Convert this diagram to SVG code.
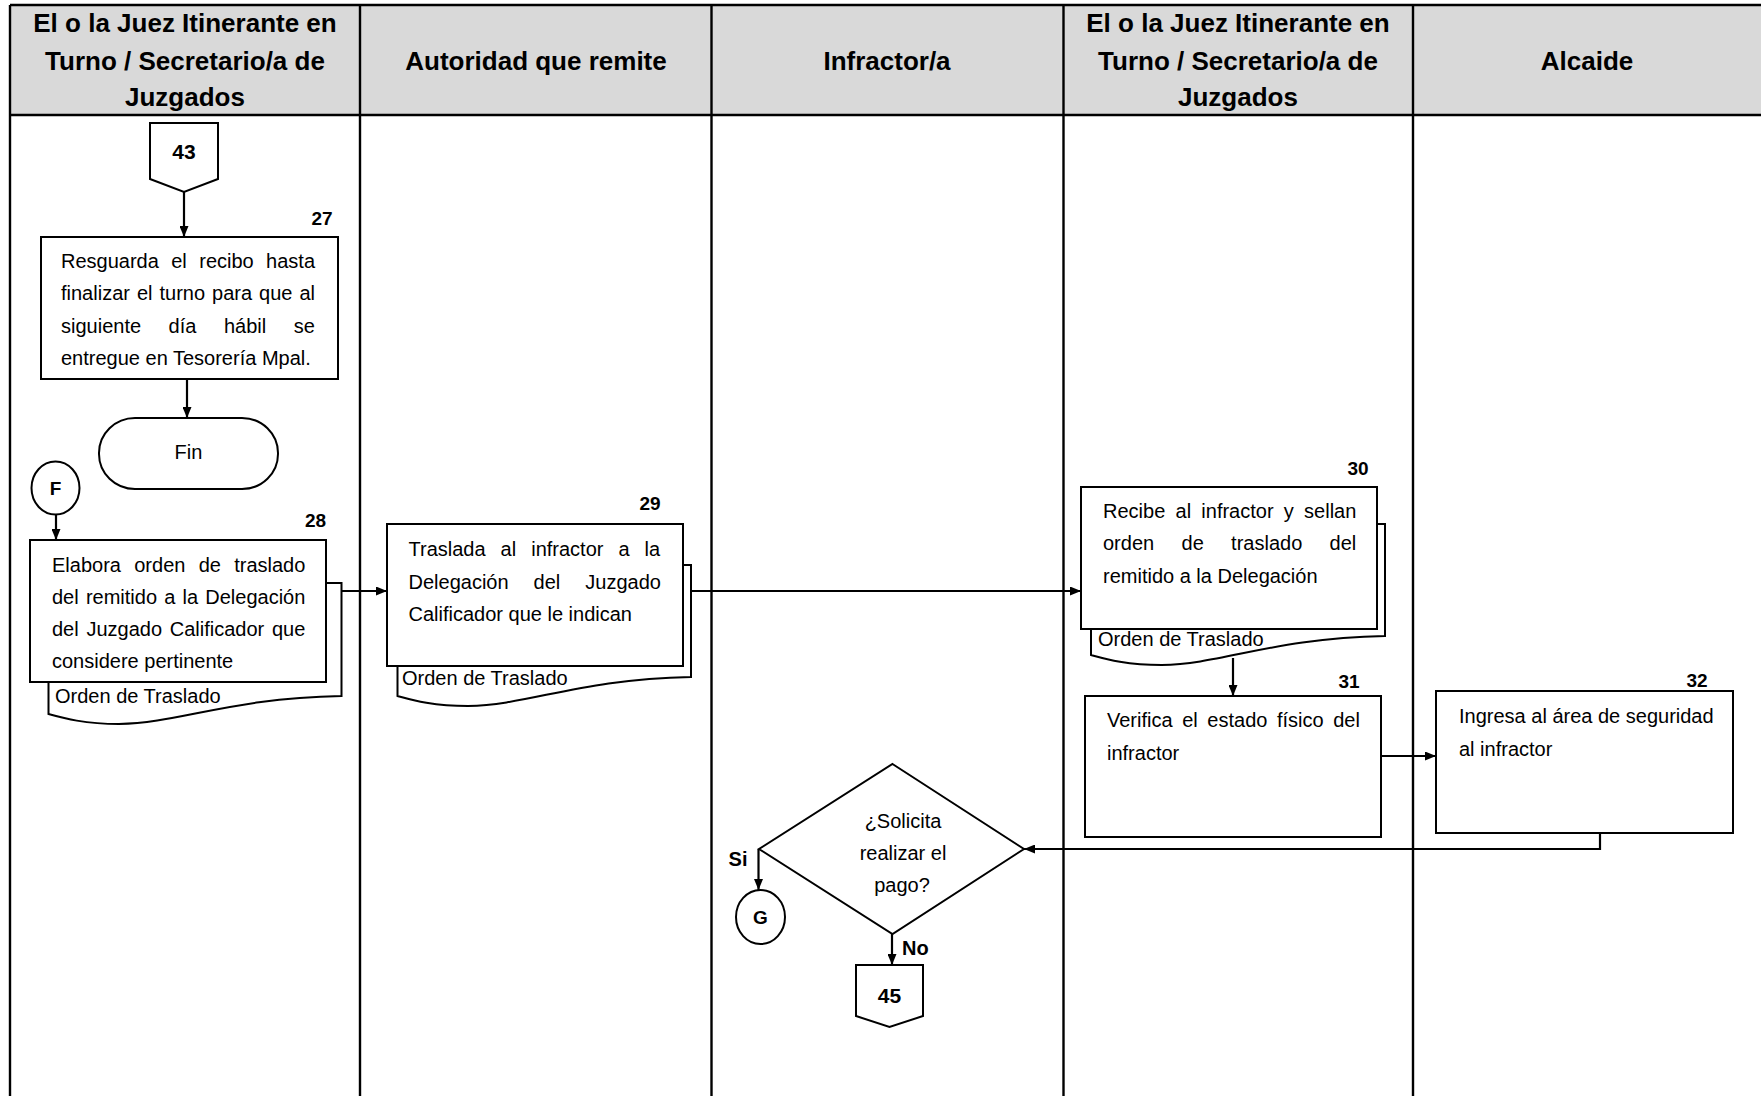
<svg xmlns="http://www.w3.org/2000/svg" width="1761" height="1096" viewBox="0 0 1761 1096">
<defs>
<style>
.lane{stroke:#000;stroke-width:2.4;fill:none}
.box{fill:#fff;stroke:#000;stroke-width:2}
.conn{fill:none;stroke:#000;stroke-width:2.2}
text{font-family:"Liberation Sans",Arial,sans-serif;fill:#000}
.t{font-size:20px}
.hdr{font-size:26px;font-weight:bold;text-anchor:middle}
.num{font-size:19px;font-weight:bold;text-anchor:middle}
.big{font-size:21px;font-weight:bold;text-anchor:middle}
.mid{text-anchor:middle}
</style>
<marker id="ah" viewBox="0 0 11 9" refX="11" refY="4.5" markerWidth="11" markerHeight="9" markerUnits="userSpaceOnUse" orient="auto"><path d="M0,0 L11,4.5 L0,9 z" fill="#000"/></marker>
</defs>
<rect width="1761" height="1096" fill="#fff"/>
<g id="lanes">
<rect x="10" y="5" width="1751" height="110" fill="#d9d9d9"/>
<line class="lane" x1="10" y1="5" x2="1761" y2="5"/>
<line class="lane" x1="10" y1="115" x2="1761" y2="115" style="stroke-width:2.6"/>
<line class="lane" x1="10" y1="5" x2="10" y2="1096"/>
<line class="lane" x1="360" y1="5" x2="360" y2="1096"/>
<line class="lane" x1="711.5" y1="5" x2="711.5" y2="1096"/>
<line class="lane" x1="1063.5" y1="5" x2="1063.5" y2="1096"/>
<line class="lane" x1="1413" y1="5" x2="1413" y2="1096"/>
<text class="hdr" x="185" y="32">El o la Juez Itinerante en</text>
<text class="hdr" x="185" y="70">Turno / Secretario/a de</text>
<text class="hdr" x="185" y="106">Juzgados</text>
<text class="hdr" x="536" y="70">Autoridad que remite</text>
<text class="hdr" x="887" y="70">Infractor/a</text>
<text class="hdr" x="1238" y="32">El o la Juez Itinerante en</text>
<text class="hdr" x="1238" y="70">Turno / Secretario/a de</text>
<text class="hdr" x="1238" y="106">Juzgados</text>
<text class="hdr" x="1587" y="70">Alcaide</text>
</g>
<g id="connectors">
<path class="conn" d="M184,192 V237" marker-end="url(#ah)"/>
<path class="conn" d="M187,379 V418" marker-end="url(#ah)"/>
<path class="conn" d="M56,515 V540" marker-end="url(#ah)"/>
<path class="conn" d="M326,591 H387" marker-end="url(#ah)"/>
<path class="conn" d="M683,591 H1081" marker-end="url(#ah)"/>
<path class="conn" d="M1233,658 V696" marker-end="url(#ah)"/>
<path class="conn" d="M1381,756 H1436" marker-end="url(#ah)"/>
<path class="conn" d="M1600,833 V849 H1024" marker-end="url(#ah)"/>
<path class="conn" d="M758.5,849 V890" marker-end="url(#ah)"/>
<path class="conn" d="M892,934 V965" marker-end="url(#ah)"/>
<text class="num" x="738" y="866" style="font-size:20px">Si</text>
<text class="num" x="902" y="955" style="text-anchor:start;font-size:20px">No</text>
</g>
<g id="n43">
<path class="box" d="M150,123 H218 V179 L184,192 L150,179 Z"/>
<text class="big" x="184" y="159">43</text>
</g>
<g id="n27">
<text class="num" x="322" y="225">27</text>
<rect class="box" x="41" y="237" width="297" height="142"/>
<text class="t" x="61" y="268" style="word-spacing:6.85px">Resguarda el recibo hasta</text>
<text class="t" x="61" y="300" style="word-spacing:1.44px">finalizar el turno para que al</text>
<text class="t" x="61" y="333" style="word-spacing:22px">siguiente día hábil se</text>
<text class="t" x="61" y="365">entregue en Tesorería Mpal.</text>
</g>
<g id="fin">
<rect class="box" x="99" y="418" width="179" height="71" rx="36" ry="35"/>
<text class="t mid" x="188.5" y="459">Fin</text>
</g>
<g id="F">
<ellipse class="box" cx="55.5" cy="488" rx="24" ry="26.5"/>
<text class="mid" x="55.5" y="495" style="font-size:19px;font-weight:bold">F</text>
</g>
<g id="n28">
<text class="num" x="315.5" y="527">28</text>
<path class="box" d="M48.5,583 H341.5 V696 C230,698 180,723 119,724 C84,724 63,718 48.5,714 Z"/>
<rect class="box" x="30" y="540" width="296" height="142"/>
<text class="t" x="52" y="571.5" style="word-spacing:7.73px">Elabora orden de traslado</text>
<text class="t" x="52" y="603.5" style="word-spacing:1.64px">del remitido a la Delegación</text>
<text class="t" x="52" y="635.5" style="word-spacing:2.17px">del Juzgado Calificador que</text>
<text class="t" x="52" y="668">considere pertinente</text>
<text class="t" x="55" y="703">Orden de Traslado</text>
</g>
<g id="n29">
<text class="num" x="650" y="510">29</text>
<path class="box" d="M397.5,565 H691 V677 C579.5,679 529.5,705 468,706 C432.7,706 412.2,700 397.5,696 Z"/>
<rect class="box" x="387" y="524" width="296" height="142"/>
<text class="t" x="408.5" y="556" style="word-spacing:9.47px">Traslada al infractor a la</text>
<text class="t" x="408.5" y="588.5" style="word-spacing:19.48px">Delegación del Juzgado</text>
<text class="t" x="408.5" y="621">Calificador que le indican</text>
<text class="t" x="402" y="685">Orden de Traslado</text>
</g>
<g id="n30">
<text class="num" x="1358" y="475">30</text>
<path class="box" d="M1091,524 H1385 V636 C1273.3,638 1223.3,664 1161.6,665 C1126.3,665 1105.7,659 1091,655 Z"/>
<rect class="box" x="1081" y="487" width="296" height="142"/>
<text class="t" x="1103" y="517.5" style="word-spacing:4.7px">Recibe al infractor y sellan</text>
<text class="t" x="1103" y="550" style="word-spacing:21.8px">orden de traslado del</text>
<text class="t" x="1103" y="583">remitido a la Delegación</text>
<text class="t" x="1098" y="646">Orden de Traslado</text>
</g>
<g id="n31">
<text class="num" x="1349" y="688">31</text>
<rect class="box" x="1085" y="696" width="296" height="141"/>
<text class="t" x="1107" y="727" style="word-spacing:4.03px">Verifica el estado físico del</text>
<text class="t" x="1107" y="760">infractor</text>
</g>
<g id="n32">
<text class="num" x="1697" y="687">32</text>
<rect class="box" x="1436" y="691" width="297" height="142"/>
<text class="t" x="1459" y="723">Ingresa al área de seguridad</text>
<text class="t" x="1459" y="756">al infractor</text>
</g>
<g id="decision">
<path class="box" d="M892.5,764 L1024,849 L892.5,934 L759,849 Z"/>
<text class="t mid" x="903" y="828">¿Solicita</text>
<text class="t mid" x="903" y="860">realizar el</text>
<text class="t mid" x="902" y="892">pago?</text>
</g>
<g id="G">
<ellipse class="box" cx="760.5" cy="917" rx="24.5" ry="27"/>
<text class="mid" x="760.5" y="924" style="font-size:19px;font-weight:bold">G</text>
</g>
<g id="n45">
<path class="box" d="M856,965 H923 V1016 L889.5,1027 L856,1016 Z"/>
<text class="big" x="889.5" y="1003">45</text>
</g>
</svg>
